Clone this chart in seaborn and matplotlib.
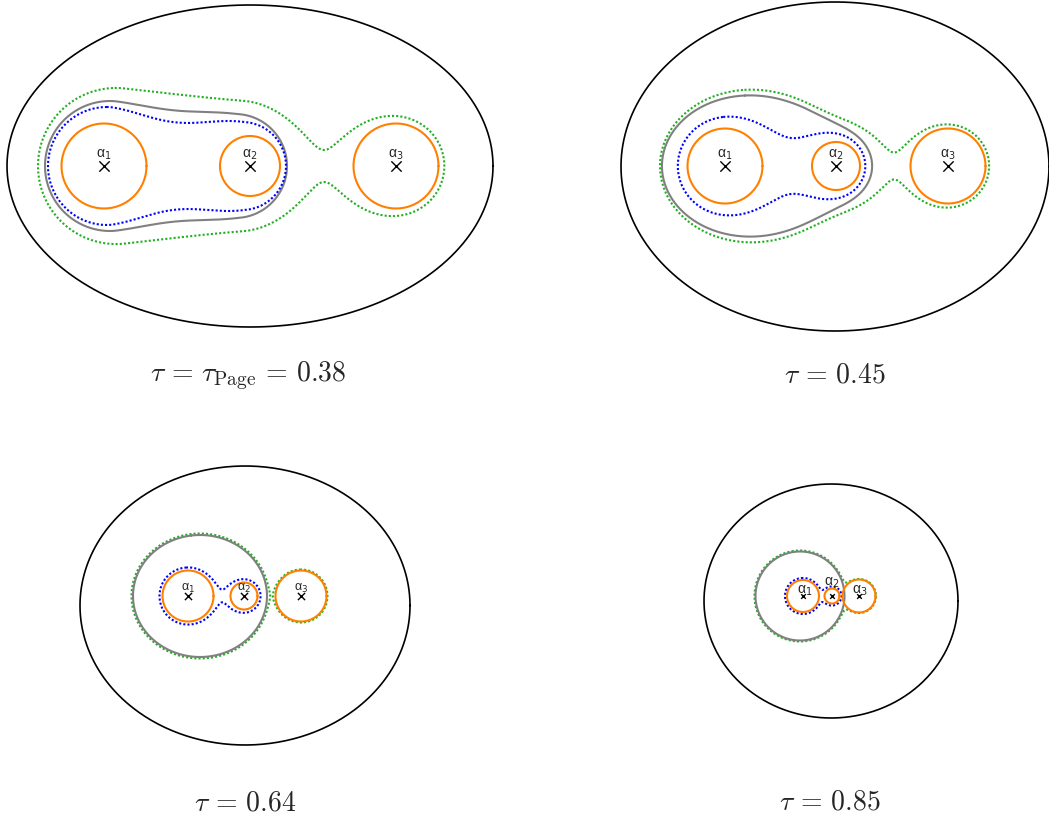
import numpy as np
import matplotlib
matplotlib.use("Agg")
import matplotlib.pyplot as plt
import seaborn as sns
import contourpy

sns.set_theme(style="white")
plt.rcParams['font.family'] = ['Liberation Sans', 'DejaVu Sans']

# ---------------- data (pixel geometry) ----------------
captions = [r'$\tau\,=\,\tau_{\mathrm{Page}}\,=\,0.38$', r'$\tau\,=\,0.45$',
            r'$\tau\,=\,0.64$', r'$\tau\,=\,0.85$']
caption_x = [248, 835, 245, 830]
caption_y = [376, 376, 804, 803]

# outer black boundary ellipse of each panel
outer_cx = [250, 835, 245, 831]
outer_cy = [167, 167.5, 606.5, 602]
outer_a = [243, 214, 165, 127]
outer_b = [161, 164.5, 139.5, 117]

# horizon points alpha_1..3 (all on one horizontal line per panel)
alpha_cy = [167, 167, 597, 597]
alpha_x = [[104, 250, 396], [725, 836, 948], [188, 244, 301], [803, 832, 859]]
orange_r = [[42.5, 30, 42.5], [37.5, 24, 37.5], [25.5, 13.5, 25.5], [16, 7.5, 16.5]]
label_dx = [[0, 0, 0], [0, 0, 0], [0, 0, 0], [2, 0, 1]]
label_dy = [[12, 12, 12], [12, 12, 12], [9, 9, 9], [6, 14, 6]]
label_fs = [10, 10, 9, 10]
cross_size = [10, 10, 7, 4.5]

# smooth-union curves.  components:
#   ('ell', cx, a, b)              ellipse
#   ('cap', x1, r1, x2, r2, waist) hull of two discs, pinched by `waist`
gray_comps = [[('cap', 110, 65, 235, 52, 3)],
              [('ell', 748, 86, 70), ('ell', 842, 24, 24)],
              [('ell', 200, 67, 61)],
              [('ell', 800, 44.5, 44.5)]]
gray_k = [10, 25, 5, 3]
blue_comps = [[('cap', 107, 59, 242, 44, 8)],
              [('ell', 725, 46, 46), ('ell', 836, 26, 26)],
              [('ell', 188, 28.5, 28.5), ('ell', 244, 16.5, 16.5)],
              [('ell', 803, 18, 18), ('ell', 832, 9.5, 9.5)]]
blue_k = [10, 38, 9, 3]
green_comps = [[('cap', 116, 78, 235, 64, 0), ('ell', 396, 47.5, 47.5)],
               [('ell', 750, 90, 76), ('ell', 844, 34, 34), ('ell', 948, 41, 41)],
               [('ell', 200, 68.5, 62.5), ('ell', 301, 26.5, 26.5)],
               [('ell', 800, 45.5, 45.5), ('ell', 859, 17, 17)]]
green_k = [38, 21, 4, 3]

ORANGE = '#ff8000'
BLUE = '#0000ff'
GREEN = '#22b022'
GRAY = '#808080'
DOT = (0, (1, 1))

# ---------------- drawing ----------------
fig = plt.figure(figsize=(10.49, 8.2), dpi=100)
ax = fig.add_axes([0, 0, 1, 1])
ax.set_xlim(0, 1049)
ax.set_ylim(820, 0)
ax.axis('off')


def draw_closed(x, y, color, lw, ls='-'):
    sns.lineplot(x=x, y=y, sort=False, estimator=None, color=color, lw=lw,
                 linestyle=ls, ax=ax, legend=False)


def ellipse(cx, cy, a, b, color, lw, ls='-'):
    t = np.linspace(0, 2 * np.pi, 400)
    draw_closed(cx + a * np.cos(t), cy + b * np.sin(t), color, lw, ls)


def comp_dist(X, Y, comp, cy):
    dy = np.abs(Y - cy)
    if comp[0] == 'ell':
        _, cx, a, b = comp
        dx = X - cx
        r = np.hypot(dx, dy) + 1e-9
        rho = np.sqrt((dx / a) ** 2 + (dy / b) ** 2) + 1e-9
        return r * (1 - 1 / rho)
    _, x1, r1, x2, r2, w = comp
    L = x2 - x1
    s = (r1 - r2) / L
    c = np.sqrt(1 - s * s)
    qx = X - x1
    along = qx * c - dy * s
    d_line = qx * s + dy * c - r1
    d_c1 = np.hypot(qx, dy) - r1
    d_c2 = np.hypot(qx - L, dy) - r2
    d = np.where(along < 0, d_c1, np.where(along > L * c, d_c2, d_line))
    t = np.clip(qx / L, 0, 1)
    return d + w * np.sin(np.pi * t) ** 2


def soft_union(X, Y, comps, cy, k):
    acc = np.zeros_like(X)
    for comp in comps:
        acc += np.exp(-comp_dist(X, Y, comp, cy) / k)
    return -k * np.log(acc)


def level_curve(p, comps, k, color, lw, ls):
    xs = np.arange(outer_cx[p] - outer_a[p], outer_cx[p] + outer_a[p], 0.5)
    ys = np.arange(alpha_cy[p] - 110, alpha_cy[p] + 110, 0.5)
    X, Y = np.meshgrid(xs, ys)
    F = soft_union(X, Y, comps, alpha_cy[p], k)
    gen = contourpy.contour_generator(xs, ys, F)
    for seg in gen.lines(0.0):
        draw_closed(seg[:, 0], seg[:, 1], color, lw, ls)


for p in range(4):
    ellipse(outer_cx[p], outer_cy[p], outer_a[p], outer_b[p], 'black', 1.2)
    level_curve(p, green_comps[p], green_k[p], GREEN, 1.5, DOT)
    level_curve(p, gray_comps[p], gray_k[p], GRAY, 1.5, '-')
    level_curve(p, blue_comps[p], blue_k[p], BLUE, 1.5, DOT)
    for i in range(3):
        ellipse(alpha_x[p][i], alpha_cy[p], orange_r[p][i], orange_r[p][i], ORANGE, 1.5)
    sns.scatterplot(x=alpha_x[p], y=[alpha_cy[p]] * 3, marker='x', color='black',
                    s=cross_size[p] ** 2 * 0.55, linewidth=1.0, ax=ax, legend=False,
                    zorder=5)
    for i in range(3):
        ax.text(alpha_x[p][i] + label_dx[p][i], alpha_cy[p] - label_dy[p][i],
                f'α$_{i + 1}$', fontsize=label_fs[p], ha='center', va='center',
                math_fontfamily='dejavusans', zorder=6)
    ax.text(caption_x[p], caption_y[p], captions[p], fontsize=20,
            ha='center', va='center', math_fontfamily='cm')

fig.savefig('out.png', dpi=100)
